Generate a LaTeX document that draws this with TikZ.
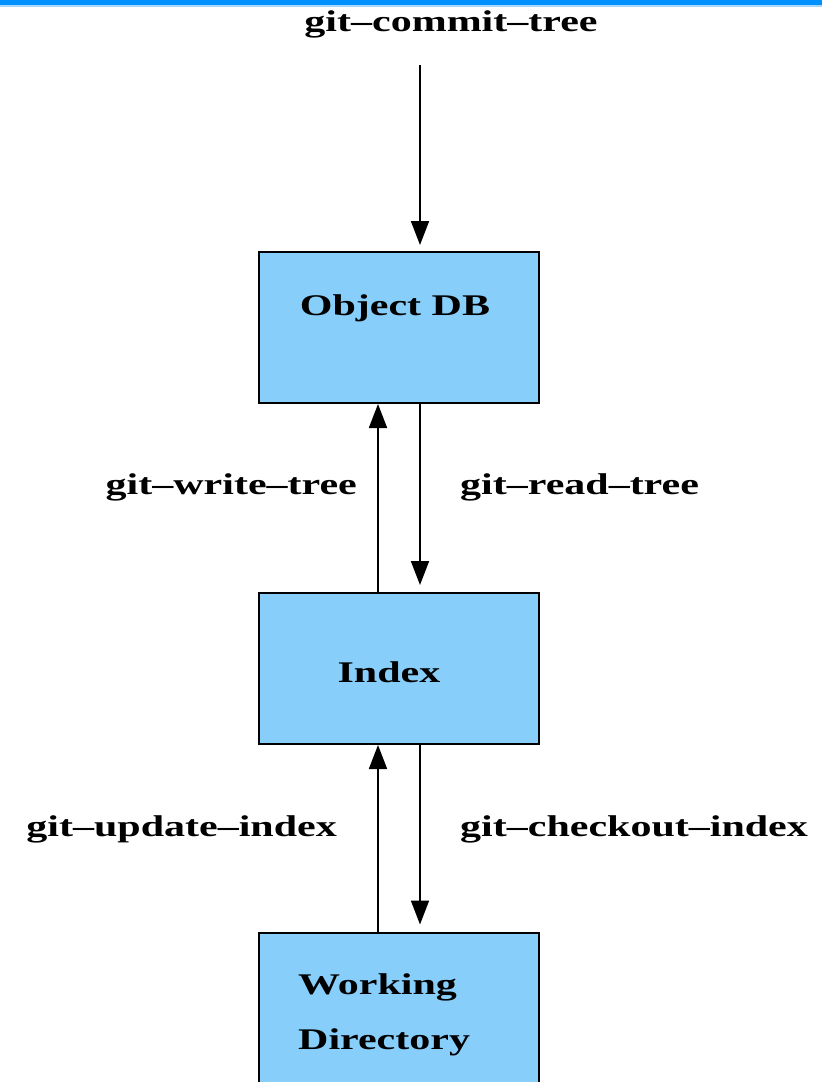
\documentclass[tikz,border=0pt]{standalone}
\usepackage{fontspec}
\newfontfamily\gitfont[FakeStretch=1.4]{Liberation Serif}
\usetikzlibrary{arrows.meta,positioning}
\definecolor{boxblue}{RGB}{135,206,250}
\definecolor{barblue}{RGB}{0,145,255}
\definecolor{barlight}{RGB}{165,215,255}
\tikzset{
  stage/.style={draw,line width=2pt,fill=boxblue,minimum width=280pt,minimum height=151pt,
    inner sep=0pt},
  cmd/.style={inner sep=0pt,font=\gitfont\bfseries\fontsize{30}{36}\selectfont},
  arrow/.style={-{Triangle[length=24pt,width=18pt]},line width=1.8pt}
}

\begin{document}
\begin{tikzpicture}[x=1pt,y=-1pt]
\useasboundingbox (0,0) rectangle (822,1082);
\fill[barblue] (0,0) rectangle (822,5);
\fill[barlight] (0,5) rectangle (822,7);
\node[stage] (odb) at (399,327.5) {};
\node[stage] (idx) at (399,668.5) {};
\node[stage] (wd) at (399,1008) {};
\node[cmd] (odbtxt) at (395,308) {Object DB};
\node[cmd] (idxtxt) at (389,672) {Index};
\node[cmd,align=left,anchor=west,font=\gitfont\bfseries\fontsize{30}{55}\selectfont] (wdtxt) at (298,1015) {Working\\Directory};
\node[cmd] (commit) at (451,24) {git–commit–tree};
\node[cmd,anchor=east] (write) at (357,487) {git–write–tree};
\node[cmd,anchor=west] (read) at (460,487) {git–read–tree};
\node[cmd,anchor=east] (update) at (337,829) {git–update–index};
\node[cmd,anchor=west] (checkout) at (460,829) {git–checkout–index};
\coordinate (src) at (420,65);
\draw[arrow,shorten >=6pt] (src) -- ([xshift=21pt]odb.north);
\foreach \a/\b in {odb/idx,idx/wd} {
  \draw[arrow] ([xshift=-21pt]\b.north) -- ([xshift=-21pt]\a.south);
  \draw[arrow,shorten >=7pt] ([xshift=21pt]\a.south) -- ([xshift=21pt]\b.north);
}
\end{tikzpicture}
\end{document}
